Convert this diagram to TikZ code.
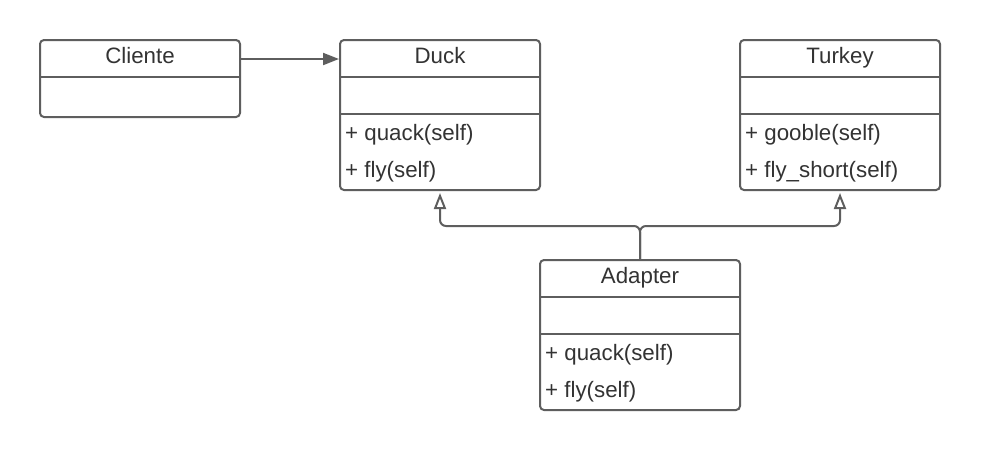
\documentclass[tikz,border=0pt]{standalone}
\usepackage{fontspec}
\setmainfont{Liberation Sans}
\usetikzlibrary{positioning,arrows.meta}
\definecolor{umlgray}{HTML}{5E5E5E}
\definecolor{umltext}{HTML}{333333}
\tikzset{%
classbox/.style={draw=umlgray,line width=2pt,rounded corners=4pt,minimum width=200pt,minimum height=150pt,inner sep=0},
classname/.style={font=\fontsize{22.3}{26}\selectfont,text=umltext,anchor=base,inner sep=0},
member/.style={font=\fontsize{22.3}{26}\selectfont,text=umltext,anchor=base west,inner sep=0},
divider/.style={draw=umlgray,line width=2pt},
assoc/.style={draw=umlgray,line width=2pt,-{Triangle[length=16pt,width=12pt]}},
realize/.style={draw=umlgray,line width=2pt,rounded corners=6pt,shorten >=2pt,-{Triangle[open,length=16pt,width=12pt]}}
}
\begin{document}
\begin{tikzpicture}[x=1pt,y=-1pt]
    \useasboundingbox[fill=white] (0,0) rectangle (981,451);

    % classes
    \node[classbox,minimum height=77pt] (cliente) at (140,78.5) {};
    \node[classbox] (duck) at (440,115) {};
    \node[classbox] (turkey) at (840,115) {};
    \node[classbox] (adapter) at (640,335) {};

    \draw[divider] ([yshift=-38pt]cliente.north west) -- ([yshift=-38pt]cliente.north east);
    \foreach \c in {duck,turkey,adapter} {
        \draw[divider] ([yshift=-38pt]\c.north west) -- ([yshift=-38pt]\c.north east);
        \draw[divider] ([yshift=-75pt]\c.north west) -- ([yshift=-75pt]\c.north east);
    }

    \node[classname] (clienteName) at ([yshift=-24pt]cliente.north) {Cliente};
    \node[classname] (duckName) at ([yshift=-24pt]duck.north) {Duck};
    \node[classname] (turkeyName) at ([yshift=-24pt]turkey.north) {Turkey};
    \node[classname] (adapterName) at ([yshift=-24pt]adapter.north) {Adapter};

    \node[member] (duckQuack) at ([xshift=6pt,yshift=-101pt]duck.north west) {+ quack(self)};
    \node[member] (duckFly) at ([xshift=6pt,yshift=-138pt]duck.north west) {+ fly(self)};
    \node[member] (turkeyGooble) at ([xshift=6pt,yshift=-101pt]turkey.north west) {+ gooble(self)};
    \node[member] (turkeyFly) at ([xshift=6pt,yshift=-138pt]turkey.north west) {+ fly\_short(self)};
    \node[member] (adapterQuack) at ([xshift=6pt,yshift=-101pt]adapter.north west) {+ quack(self)};
    \node[member] (adapterFly) at ([xshift=6pt,yshift=-138pt]adapter.north west) {+ fly(self)};

    % relations
    \draw[assoc] ([yshift=-20pt]cliente.north east) -- ([yshift=-20pt]duck.north west);
    \coordinate (split) at (640,226);
    \draw[realize] (adapter.north) -- (split) -| (duck.south);
    \draw[realize] (adapter.north) -- (split) -| (turkey.south);
\end{tikzpicture}
\end{document}
